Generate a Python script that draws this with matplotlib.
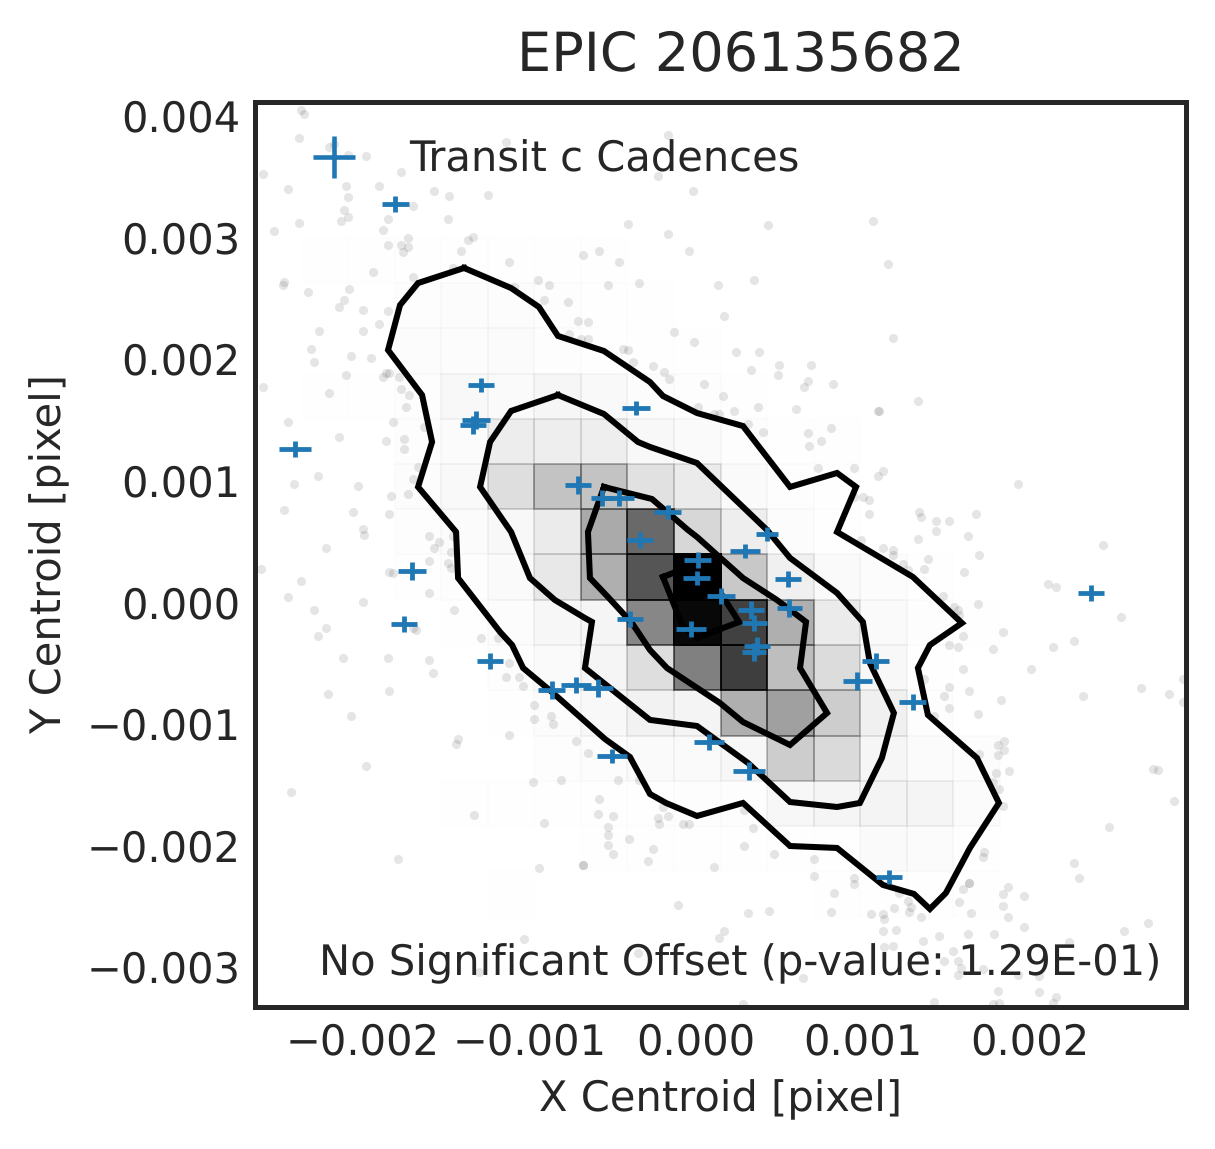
import numpy as np
import matplotlib
matplotlib.use("Agg")
import matplotlib.pyplot as plt
from matplotlib.colors import LinearSegmentedColormap

MILLI = 1e-3  # every centroid value below is in units of 0.001 pixel

x_limits = [-2.645, 2.939]
y_limits = [-3.331, 4.112]
x_ticks = [-2, -1, 0, 1, 2]
x_tick_labels = ["\u22120.002", "\u22120.001", "0.000", "0.001", "0.002"]
y_ticks = [-3, -2, -1, 0, 1, 2, 3, 4]
y_tick_labels = ["\u22120.003", "\u22120.002", "\u22120.001", "0.000", "0.001", "0.002", "0.003", "0.004"]

title_text = "EPIC 206135682"
x_label = "X Centroid [pixel]"
y_label = "Y Centroid [pixel]"
legend_label = "Transit c Cadences"
note_text = "No Significant Offset (p-value: 1.29E-01)"

dot_x = [
 -2.37,-2.35,-2.38,-2.17,-2.20,-2.09,-1.98,-2.60,-2.45,-1.77,-2.10,-1.90,-2.09,-1.57,-1.48,-1.25,-1.14,-1.70,-2.11,-2.09,
 -2.13,-1.85,-1.49,-2.38,-2.53,-1.88,-1.73,-1.85,-1.77,-1.73,-1.76,-1.34,-1.37,-1.41,-1.12,-1.94,-1.70,-1.46,-2.47,-2.48,
 -2.33,-2.08,-0.95,-0.88,-1.09,-2.11,-2.14,-2.00,-1.85,-0.91,-0.77,-1.90,-2.26,-2.00,-0.76,-2.31,-2.07,-1.95,-2.29,-2.10,
 -1.88,-1.86,-1.84,-2.60,-1.78,-1.77,-2.20,-1.72,-1.74,
 -0.17,-0.23,-0.02,-0.41,-0.17,0.43,1.06,-0.68,-0.58,-0.46,-0.04,1.15,-0.53,-0.34,0.13,0.35,0.17,-0.71,-0.65,-0.13,-0.65,
 -0.69,-0.01,1.18,-0.44,-0.41,0.24,0.38,-0.38,-0.26,0.50,0.69,0.33,-0.19,-0.16,0.49,0.05,0.67,0.65,0.82,0.16,0.01,0.23,
 0.37,0.60,1.09,0.11,0.14,
 1.33,1.10,0.31,0.40,0.67,0.81,0.68,0.75,0.73,0.95,1.12,1.09,0.95,1.00,1.04,1.04,1.93,1.34,1.35,1.44,1.52,1.68,1.44,1.33,
 1.63,1.12,1.18,1.18,1.70,2.44,1.39,1.24,1.27,1.37,1.61,2.11,2.16,0.99,1.48,1.69,1.55,1.57,1.58,2.55,1.84,1.60,1.52,1.57,
 1.78,2.14,2.27,1.60,2.01,1.37,1.52,1.64,1.49,1.83,2.32,2.67,2.84,2.92,2.92,1.52,1.69,1.43,
 1.85,1.81,1.85,1.81,1.70,1.80,1.88,2.74,2.77,1.78,1.82,2.87,1.84,2.48,1.73,1.72,2.27,2.30,1.64,1.64,1.87,1.60,1.84,1.97,
 1.58,1.84,1.22,1.27,1.29,1.19,1.28,1.12,1.13,1.35,1.65,1.87,2.71,1.97,2.57,1.20,1.12,1.63,1.79,1.46,1.36,2.24,1.13,1.18,
 1.54,1.57,1.49,1.59,1.72,1.57,1.93,2.06,1.81,2.06,2.16,2.14,1.43,1.82,1.78,0.47,0.71,0.71,0.95,0.95,0.83,0.44,0.81,1.05,0.64,
 -0.58,-0.59,-0.50,-0.53,-0.53,-0.53,-0.50,-0.40,-0.26,-0.29,-0.68,-0.68,-0.23,-0.17,-0.22,-0.08,-0.04,-0.20,0.29,0.34,0.29,
 0.11,-0.11,0.31,0.17,0.14,-0.35,0.28,
 -1.12,-1.14,-1.06,-1.04,-0.97,-0.97,-0.87,-0.86,-1.12,-0.72,-0.65,-0.98,-0.81,-0.47,-0.34,-0.91,-1.03,
 -2.45,-1.82,-2.14,-1.86,-1.75,-1.75,-1.63,-2.27,-2.41,-2.03,-1.67,-1.70,-1.73,-1.83,-2.47,-2.06,-1.84,-2.00,-1.99,-1.60,
 -1.54,-1.57,-1.46,-1.47,-2.22,-1.60,-1.49,-1.47,-2.61,-1.84,-1.82,-2.37,-2.45,-1.60,-2.00,-1.45,-2.29,-2.22,-2.27,-1.70,
 -1.68,-1.29,-1.19,-2.12,-1.85,-1.60,-1.58,-2.21,-1.84,-2.07,
 -1.43,-1.44,-1.98,-2.43,-1.33,-1.79,-0.94,-1.30,
]
dot_y = [
 4.05,4.01,3.82,3.77,3.74,3.68,3.67,3.52,3.40,3.54,3.42,3.42,3.33,3.38,3.34,3.35,3.78,3.26,3.22,3.17,
 3.13,3.15,3.15,3.12,3.05,3.06,2.99,2.94,2.94,2.92,2.88,3.00,2.98,2.89,2.80,2.71,2.67,2.75,2.63,2.61,
 2.55,2.57,2.65,2.61,2.59,2.48,2.43,2.40,2.39,2.48,2.47,2.29,2.23,2.23,2.20,2.08,2.02,2.01,1.97,1.87,
 1.85,1.88,1.88,1.77,1.85,1.75,1.72,1.70,1.60,
 3.84,3.50,3.38,3.11,3.03,3.10,3.13,2.85,2.89,2.80,2.89,2.78,2.61,2.62,2.61,2.65,2.35,2.31,2.30,2.22,2.16,
 2.16,2.14,2.17,2.08,2.07,2.06,2.06,1.97,1.94,1.95,1.95,1.91,1.89,1.83,1.87,1.79,1.82,1.77,1.79,1.69,1.60,1.57,
 1.60,1.59,1.57,1.55,1.55,
 1.65,1.57,1.46,1.40,1.39,1.43,1.28,1.32,1.10,1.10,1.08,1.04,0.86,0.86,0.84,0.72,0.97,0.74,0.70,0.67,0.67,0.72,0.58,0.52,
 0.54,0.44,0.43,0.39,0.39,0.47,0.35,0.31,0.26,0.27,0.25,0.15,0.12,0.51,0.05,-0.02,-0.04,-0.07,-0.11,-0.12,-0.25,-0.28,-0.35,-0.37,
 -0.39,-0.37,-0.32,-0.55,-0.55,-0.63,-0.70,-0.73,-0.77,-0.81,-0.77,-0.71,-0.76,-0.63,-0.82,-0.87,-0.92,-0.94,
 -1.14,-1.18,-1.22,-1.26,-1.25,-1.41,-1.39,-1.37,-1.38,-1.48,-1.54,-1.64,-1.68,-1.85,-2.06,-2.10,-2.15,-2.27,-2.31,-2.31,-2.34,-2.36,-2.40,-2.42,
 -2.47,-2.50,-2.39,-2.46,-2.51,-2.52,-2.55,-2.57,-2.61,-2.59,-2.56,-2.59,-2.64,-2.67,-2.71,-2.70,-2.71,-2.73,-2.73,-2.75,-2.79,-2.80,-2.84,-2.83,
 -2.87,-2.95,-2.95,-3.01,-3.02,-3.07,-3.07,-3.08,-3.20,-3.21,-3.25,-3.30,-3.29,-3.30,-3.31,-2.07,-2.11,-2.25,-2.27,-2.32,-2.39,-2.54,-2.55,-2.57,-3.09,
 -1.62,-1.74,-1.76,-1.85,-1.92,-2.00,-2.07,-1.95,-2.03,-2.13,-2.16,-2.16,-1.78,-1.76,-1.83,-1.83,-1.83,-1.69,-1.71,-1.86,-2.01,
 -2.18,-2.49,-2.56,-2.71,-2.76,-2.89,-3.31,
 -0.50,-0.62,-0.62,-0.69,-0.85,-0.96,-0.94,-1.00,-1.09,-1.14,-1.24,-1.48,-1.46,-1.46,-1.46,-1.82,-2.77,
 1.48,1.48,1.36,1.32,1.34,1.26,1.44,1.04,0.97,0.95,1.11,1.01,0.89,0.87,0.76,0.74,0.72,0.60,0.55,0.54,
 0.49,0.44,0.54,0.41,0.44,0.34,0.32,0.28,0.27,0.25,0.24,0.17,0.04,0.07,0.00,-0.07,-0.07,-0.21,-0.28,-0.21,
 -0.23,-0.30,-0.30,-0.46,-0.46,-0.48,-0.58,-0.76,-0.73,-0.94,
 -1.13,-1.17,-1.35,-1.56,-1.75,-2.11,-2.19,-3.04,
]

# darkness of each 2-d histogram cell, rows from top of the axes to bottom
cell_counts = [
 [0]*20,
 [0]*20,
 [0]*20,
 [0,1,1,1,1,1,1,1,0,0,0,0,0,0,0,0,0,0,0,0],
 [0,0,0,2,3,3,2,1,1,0,0,0,0,0,0,0,0,0,0,0],
 [0,0,0,3,3,4,2,1,1,1,0,0,0,0,0,0,0,0,0,0],
 [0,1,1,2,7,5,9,6,3,2,1,0,0,0,0,0,0,0,0,0],
 [0,0,0,2,4,18,17,17,7,5,2,1,1,0,0,0,0,0,0,0],
 [0,0,0,3,6,33,60,60,30,20,5,2,1,0,0,0,0,0,0,0],
 [0,0,0,2,4,7,20,85,150,40,17,3,1,0,0,0,0,0,0,0],
 [0,0,0,1,2,5,23,80,170,255,55,15,5,3,1,0,0,0,0,0],
 [0,0,0,0,1,3,8,10,120,247,190,80,20,5,2,1,0,0,0,0],
 [0,0,0,0,0,2,5,10,33,127,193,65,35,7,1,0,0,0,0,0],
 [0,0,0,0,0,1,3,7,13,11,80,95,50,15,2,0,0,0,0,0],
 [0,0,0,0,0,0,2,3,5,5,8,50,37,9,4,3,0,0,0,0],
 [0,0,0,0,1,1,1,1,1,2,2,8,10,11,10,4,0,0,0,0],
 [0,0,0,0,0,0,0,1,1,1,1,1,1,5,4,1,0,0,0,0],
 [0,0,0,0,0,1,0,0,0,0,0,0,1,1,1,1,0,0,0,0],
 [0]*20,
 [0]*20,
]

outer_x = [-1.391,-1.109,-0.942,-0.828,-0.552,-0.276,-0.198,0.006,0.282,0.564,0.846,0.960,0.846,1.301,1.595,1.403,1.331,1.391,1.685,1.817,1.643,1.499,1.403,1.307,1.121,0.846,0.564,0.282,0.006,-0.180,-0.276,-0.396,-0.546,-0.858,-1.037,-1.103,-1.175,-1.427,-1.439,-1.667,-1.583,-1.643,-1.847,-1.775,-1.667,-1.391]
outer_y = [2.747,2.582,2.426,2.188,2.064,1.809,1.694,1.554,1.447,0.946,1.061,0.946,0.576,0.206,-0.173,-0.354,-0.543,-0.929,-1.283,-1.653,-2.023,-2.393,-2.525,-2.401,-2.327,-2.023,-2.007,-1.653,-1.760,-1.653,-1.579,-1.275,-1.127,-0.748,-0.543,-0.354,-0.247,0.197,0.576,0.946,1.316,1.702,2.072,2.442,2.623,2.747]
middle_x = [-0.828,-0.552,-0.348,-0.276,0.006,0.426,0.564,0.846,1.001,1.043,1.187,1.115,0.983,0.846,0.564,0.312,0.006,-0.276,-0.666,-0.624,-0.666,-0.846,-0.996,-1.109,-1.295,-1.235,-1.109,-0.828]
middle_y = [1.702,1.546,1.316,1.275,1.143,0.592,0.362,0.074,-0.164,-0.502,-0.913,-1.283,-1.653,-1.686,-1.645,-1.324,-1.020,-0.970,-0.543,-0.164,-0.132,0.016,0.197,0.576,0.946,1.316,1.571,1.702]
inner_x = [-0.552,-0.264,-0.048,0.006,0.282,0.486,0.660,0.624,0.786,0.564,0.282,0.144,-0.174,-0.276,-0.384,-0.528,-0.636,-0.648,-0.552]
inner_y = [0.946,0.847,0.592,0.535,0.197,0.016,-0.164,-0.543,-0.913,-1.176,-0.987,-0.831,-0.543,-0.395,-0.173,0.041,0.197,0.576,0.946]
core_x = [-0.198,-0.138,0.006,0.144,0.258,0.006,-0.084,-0.198]
core_y = [0.206,0.238,0.321,0.082,-0.164,-0.296,-0.189,0.206]

transit_x = [-1.805,-1.289,-1.319,-1.337,-0.360,-0.708,-0.564,-0.462,-0.168,-0.336,-1.703,0.426,0.294,0.012,0.006,0.150,0.552,0.558,0.330,0.348,0.366,0.348,-0.030,1.079,0.966,1.301,-0.864,-0.720,-0.588,0.078,-0.504,0.318,-1.235,-1.751,-2.405,2.369,1.157,-0.396]
transit_y = [3.273,1.785,1.497,1.456,1.595,0.962,0.855,0.855,0.740,0.510,0.255,0.559,0.419,0.345,0.197,0.049,0.189,-0.049,-0.066,-0.173,-0.362,-0.411,-0.222,-0.485,-0.650,-0.822,-0.724,-0.683,-0.707,-1.151,-1.266,-1.390,-0.485,-0.181,1.258,0.074,-2.262,-0.140]
transit_xerr = [0.081,0.078,0.084,0.078,0.084,0.078,0.066,0.090,0.081,0.078,0.084,0.066,0.090,0.081,0.081,0.081,0.078,0.075,0.078,0.075,0.078,0.072,0.090,0.081,0.087,0.081,0.081,0.090,0.090,0.090,0.090,0.096,0.078,0.078,0.096,0.078,0.078,0.078]
transit_yerr = [0.066,0.058,0.074,0.074,0.058,0.074,0.066,0.066,0.058,0.066,0.074,0.058,0.058,0.066,0.058,0.066,0.066,0.074,0.074,0.066,0.074,0.074,0.066,0.066,0.074,0.066,0.074,0.066,0.074,0.066,0.058,0.074,0.066,0.066,0.066,0.066,0.058,0.066]

plt.rcParams["font.family"] = ["DejaVu Sans"]
plt.rcParams["text.hinting"] = "none"
TEXT = "#262626"
fig = plt.figure(figsize=(1215 / 300, 1149 / 300), dpi=300)
ax = fig.add_axes([255 / 1215, (1149 - 1007) / 1149, 931 / 1215, 905 / 1149])

xlim = np.array(x_limits) * MILLI
ylim = np.array(y_limits) * MILLI
x_edges = np.linspace(xlim[0], xlim[1], 21)
y_edges = np.linspace(ylim[1], ylim[0], 21)

ax.scatter(np.array(dot_x) * MILLI, np.array(dot_y) * MILLI, s=4.8, c="k", alpha=0.1,
           linewidths=0, zorder=1)

ink = LinearSegmentedColormap.from_list("ink", [(0, 0, 0, 0), (0, 0, 0, 1)])
ax.pcolormesh(x_edges, y_edges, np.array(cell_counts), cmap=ink, vmin=0, vmax=255,
              edgecolors="face", linewidth=0.04, zorder=2)

for cx, cy in [(outer_x, outer_y), (middle_x, middle_y), (inner_x, inner_y), (core_x, core_y)]:
    ax.plot(np.array(cx) * MILLI, np.array(cy) * MILLI, color="k", lw=1.45,
            solid_joinstyle="miter", zorder=3)

ax.errorbar(np.array(transit_x) * MILLI, np.array(transit_y) * MILLI,
            xerr=np.array(transit_xerr) * MILLI, yerr=np.array(transit_yerr) * MILLI,
            fmt="none", ecolor="#1f77b4", elinewidth=1.15, capsize=0, zorder=4)
ax.plot([], [], ls="none", marker="+", ms=10, mew=1.1, color="#1f77b4", label=legend_label)

ax.set_xlim(*xlim)
ax.set_ylim(*ylim)
ax.set_xticks(np.array(x_ticks) * MILLI, x_tick_labels)
ax.set_yticks(np.array(y_ticks) * MILLI, y_tick_labels)
ax.tick_params(axis="x", length=0, pad=3.8, labelsize=10, labelcolor=TEXT)
ax.tick_params(axis="y", length=0, pad=3.4, labelsize=10, labelcolor=TEXT)
for lab in ax.get_yticklabels():
    lab.set_verticalalignment("center_baseline")
for spine in ax.spines.values():
    spine.set_linewidth(1.2)
    spine.set_color(TEXT)

ax.set_xlabel(x_label, fontsize=10, color=TEXT, labelpad=3.7)
ax.set_ylabel(y_label, fontsize=10, color=TEXT, labelpad=4)
ax.set_title(title_text, fontsize=13, color=TEXT, x=0.522, pad=7.7)
ax.legend(loc="upper left", frameon=False, fontsize=10, labelcolor=TEXT)
ax.text(0.974, 0.035, note_text, transform=ax.transAxes, ha="right", va="baseline",
        fontsize=10, color=TEXT, zorder=5)

fig.savefig("out.png", dpi=300)
